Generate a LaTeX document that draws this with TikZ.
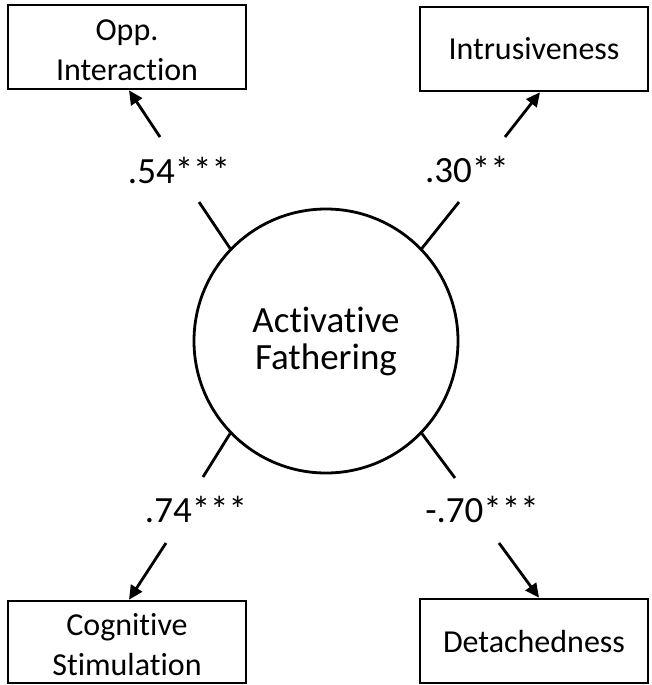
\documentclass[tikz,border=0pt]{standalone}
\usepackage{fontspec}
\setmainfont[Ligatures=NoCommon,RawFeature={-liga;-clig;-calt}]{Carlito}
\usetikzlibrary{arrows.meta}
\begin{document}
\begin{tikzpicture}[x=1pt,y=-1pt,
  box/.style={draw, line width=2.6pt, minimum width=#1, minimum height=84pt,
    inner sep=0pt, align=center, font=\fontsize{32}{40}\selectfont},
  latent/.style={draw, circle, line width=2.8pt, minimum size=264pt, inner sep=0pt,
    align=center, font=\fontsize{37}{37}\selectfont},
  coef/.style={anchor=base, inner sep=0pt, font=\fontsize{37}{37}\selectfont},
  path/.style={line width=2.8pt},
  arrowline/.style={line width=2.8pt, -{Triangle[length=14pt,width=13pt]}}
]
\fill[white] (0,0) rectangle (652,685);
\useasboundingbox (0,0) rectangle (652,685);

% boxes
\node[box=238pt] (opp) at (127,47) {\strut Opp.\\Interaction};
\node[box=228pt] (intr) at (534,49) {Intrusiveness};
\node[box=238pt, minimum height=82pt] (cog) at (127,642) {\strut Cognitive\\Stimulation};
\node[box=228pt] (det) at (534,641) {Detachedness};

% latent variable
\node[latent] (af) at (326,341) {Activative\\Fathering};

% coefficients
\node[coef] (c1) at (179,183) {.54***};
\node[coef] (c2) at (467,182) {.30**};
\node[coef] (c3) at (196,522) {.74***};
\node[coef] (c4) at (482,522) {-.70***};

% line ends
\coordinate (e1) at (199,202);
\coordinate (e2) at (459,202);
\coordinate (e3) at (203,477);
\coordinate (e4) at (455,478);
\coordinate (s1) at (160,137);
\coordinate (s2) at (505,137);
\coordinate (s3) at (166,543);
\coordinate (s4) at (499,543);

\draw[path] (af.136) -- (e1);
\draw[path] (af.44) -- (e2);
\draw[path] (af.224) -- (e3);
\draw[path] (af.316) -- (e4);

\draw[arrowline] (s1) -- ([xshift=2pt]opp.south);
\draw[arrowline] (s2) -- ([xshift=6pt]intr.south);
\draw[arrowline] (s3) -- ([xshift=2pt]cog.north);
\draw[arrowline] (s4) -- ([xshift=5pt]det.north);
\end{tikzpicture}
\end{document}
